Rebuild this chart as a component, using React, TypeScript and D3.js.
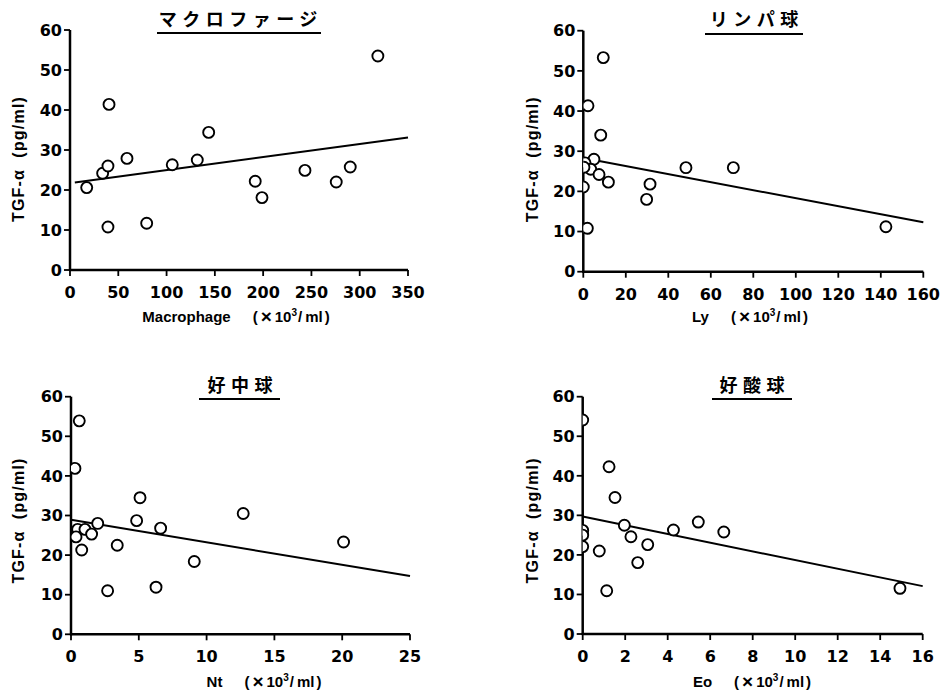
import React from "react";
import * as d3 from "d3";

// ---- data ----
const yTicks = [0, 10, 20, 30, 40, 50, 60];

const macroX = [17.3, 33.8, 39.3, 40.4, 39.3, 59, 79.4, 105.9, 131.8, 143.6, 191.8, 198.8, 243.3, 275.7, 290.2, 318.8];
const macroY = [20.6, 24.2, 26, 41.4, 10.75, 27.9, 11.7, 26.3, 27.5, 34.4, 22.2, 18.1, 24.9, 22, 25.75, 53.5];
const macroTicks = [0, 50, 100, 150, 200, 250, 300, 350];
const macroFitX = [5, 350];
const macroFitY = [21.9, 33.1];

const lyX = [9.4, 2.2, 8.2, 5.0, 0.8, 3.5, 7.4, 11.8, 0, 1.9, 29.8, 31.4, 48.3, 70.6, 142.4, 0.3];
const lyY = [53.3, 41.3, 34, 28, 27.1, 25.5, 24.2, 22.3, 21.1, 10.8, 18, 21.8, 25.9, 25.9, 11.2, 26];
const lyTicks = [0, 20, 40, 60, 80, 100, 120, 140, 160];
const lyFitX = [0, 160];
const lyFitY = [28.3, 12.3];

const ntX = [0.61, 0.29, 5.09, 4.84, 1.97, 6.61, 12.7, 0.49, 1.03, 0.37, 1.52, 0.79, 3.41, 9.09, 20.1, 2.7, 6.27];
const ntY = [53.9, 41.9, 34.5, 28.7, 28, 26.8, 30.5, 26.5, 26.5, 24.6, 25.3, 21.3, 22.5, 18.4, 23.3, 11, 11.9];
const ntTicks = [0, 5, 10, 15, 20, 25];
const ntFitX = [0, 25];
const ntFitY = [28.9, 14.7];

const eoX = [0, 1.24, 1.52, 1.96, 2.27, 3.06, 2.59, 0.78, 1.13, 4.27, 5.44, 6.64, 14.93, 0, 0, 0];
const eoY = [54.1, 42.3, 34.5, 27.5, 24.6, 22.6, 18.05, 21, 10.95, 26.3, 28.3, 25.8, 11.55, 26.2, 25, 22.1];
const eoTicks = [0, 2, 4, 6, 8, 10, 12, 14, 16];
const eoFitX = [0, 16];
const eoFitY = [29.7, 12.1];

const titles = ["マクロファージ", "リンパ球", "好中球", "好酸球"];
const xLabels = ["Macrophage", "Ly", "Nt", "Eo"];
const yLabel = "TGF-α  (pg/ml)";

const FONT = "'Liberation Sans', Arial, Helvetica, sans-serif";
const TICKFONT = "'DejaVu Sans', 'Liberation Sans', sans-serif";
const CJK = "'Noto Sans CJK JP', 'Noto Sans CJK SC', sans-serif";

type PanelProps = {
  id: string;
  x0: number; x1: number; yTop: number; yBot: number;
  xMax: number; xTicks: number[];
  xs: number[]; ys: number[];
  fitX: number[]; fitY: number[];
  title: string; titleCx: number; titleY: number; ulX0: number; ulX1: number; ulY: number;
  xLabel: string; xLabelCx: number; xLabelY: number;
  yLabelX: number; yLabelShift: number;
};

function Panel(p: PanelProps) {
  const x = d3.scaleLinear().domain([0, p.xMax]).range([p.x0, p.x1]);
  const y = d3.scaleLinear().domain([0, 60]).range([p.yBot, p.yTop]);
  const line = d3.line<number>().x((_, i) => x(p.fitX[i])).y((_, i) => y(p.fitY[i]));
  const ls = 5.5;
  return (
    <g>
      <defs>
        <clipPath id={p.id}>
          <rect x={p.x0} y={p.yTop - 20} width={p.x1 - p.x0 + 20} height={p.yBot - p.yTop + 20} />
        </clipPath>
      </defs>
      {/* title */}
      <text x={p.titleCx + ls / 2} y={p.titleY} textAnchor="middle" fontFamily={CJK} fontWeight={700}
        fontSize={18} letterSpacing={ls} fill="#000">{p.title}</text>
      <line x1={p.ulX0} x2={p.ulX1} y1={p.ulY} y2={p.ulY} stroke="#000" strokeWidth={2} />
      {/* axes */}
      <line x1={p.x0} x2={p.x0} y1={p.yTop} y2={p.yBot + 1} stroke="#000" strokeWidth={2.5} />
      <line x1={p.x0 - 1} x2={p.x1} y1={p.yBot} y2={p.yBot} stroke="#000" strokeWidth={2.5} />
      {yTicks.map((t) => (
        <g key={"y" + t}>
          <line x1={p.x0 - 6} x2={p.x0} y1={y(t)} y2={y(t)} stroke="#000" strokeWidth={1.8} />
          <text x={p.x0 - 8} y={y(t)} dy="0.36em" textAnchor="end" fontFamily={TICKFONT} fontWeight={700} fontSize={16} fill="#000">{t}</text>
        </g>
      ))}
      {p.xTicks.map((t) => (
        <g key={"x" + t}>
          <line x1={x(t)} x2={x(t)} y1={p.yBot} y2={p.yBot + 6} stroke="#000" strokeWidth={1.8} />
          <text x={x(t)} y={p.yBot + 28} textAnchor="middle" fontFamily={TICKFONT} fontWeight={700} fontSize={16} fill="#000">{t}</text>
        </g>
      ))}
      {/* axis labels */}
      <text x={p.xLabelCx} y={p.xLabelY} textAnchor="middle" fontFamily={FONT} fontWeight={700} fontSize={15} fill="#000">
        {p.xLabel}
        <tspan dx={22}>(</tspan>
        <tspan dx={3} fontSize={19} dy={1}>×</tspan>
        <tspan dx={3} dy={-1}>10</tspan>
        <tspan fontSize={10} dy={-6}>3</tspan>
        <tspan dx={1} dy={6}>/</tspan>
        <tspan dx={3}>ml</tspan>
        <tspan dx={2}>)</tspan>
      </text>
      <text transform={`translate(${p.yLabelX},${(p.yTop + p.yBot) / 2 + p.yLabelShift}) rotate(-90)`} textAnchor="middle"
        fontFamily={FONT} fontWeight={700} fontSize={16} letterSpacing={1.2} fill="#000" style={{ whiteSpace: "pre" }}>{yLabel}</text>
      {/* regression line */}
      <path d={line(p.fitX) || ""} fill="none" stroke="#000" strokeWidth={2} />
      {/* points */}
      <g clipPath={`url(#${p.id})`}>
        {p.xs.map((v, i) => (
          <circle key={i} cx={x(v)} cy={y(p.ys[i])} r={5.5} fill="#fff" stroke="#000" strokeWidth={1.9} />
        ))}
      </g>
    </g>
  );
}

export default function App() {
  return (
    <div style={{ position: "absolute", left: 0, top: 0 }}>
      <svg width={942} height={692} style={{ display: "block", background: "#fff" }}>
        <Panel id="c1" x0={70} x1={408} yTop={30} yBot={270} xMax={350} xTicks={macroTicks}
          xs={macroX} ys={macroY} fitX={macroFitX} fitY={macroFitY}
          title={titles[0]} titleCx={238} titleY={26} ulX0={157} ulX1={321} ulY={33}
          xLabel={xLabels[0]} xLabelCx={236} xLabelY={322} yLabelX={24} yLabelShift={9} />
        <Panel id="c2" x0={583.3} x1={923.3} yTop={30.7} yBot={271.7} xMax={160} xTicks={lyTicks}
          xs={lyX} ys={lyY} fitX={lyFitX} fitY={lyFitY}
          title={titles[1]} titleCx={754} titleY={26} ulX0={705} ulX1={803} ulY={34}
          xLabel={xLabels[1]} xLabelCx={750} xLabelY={322} yLabelX={538} yLabelShift={8} />
        <Panel id="c3" x0={71} x1={410} yTop={396.7} yBot={634.3} xMax={25} xTicks={ntTicks}
          xs={ntX} ys={ntY} fitX={ntFitX} fitY={ntFitY}
          title={titles[2]} titleCx={240} titleY={392} ulX0={199} ulX1={280} ulY={399}
          xLabel={xLabels[2]} xLabelCx={264} xLabelY={687} yLabelX={24} yLabelShift={5} />
        <Panel id="c4" x0={582.7} x1={922.7} yTop={396.7} yBot={634} xMax={16} xTicks={eoTicks}
          xs={eoX} ys={eoY} fitX={eoFitX} fitY={eoFitY}
          title={titles[3]} titleCx={752} titleY={392} ulX0={712} ulX1={792} ulY={399}
          xLabel={xLabels[3]} xLabelCx={752} xLabelY={687} yLabelX={538} yLabelShift={5} />
      </svg>
    </div>
  );
}
